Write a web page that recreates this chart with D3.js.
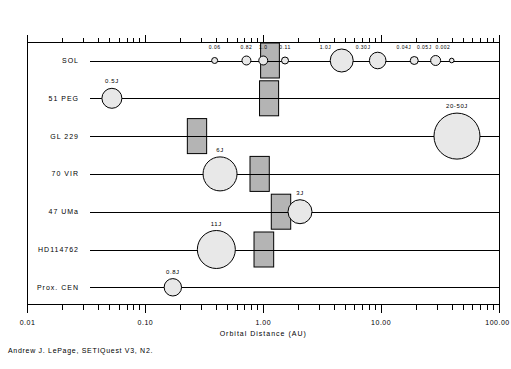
<!DOCTYPE html>
<html>
<head>
<meta charset="utf-8">
<script src="https://cdn.jsdelivr.net/npm/d3@7"></script>
<style>
  html, body { margin: 0; padding: 0; background: #fff; }
  svg text { font-family: "Liberation Sans", Arial, sans-serif; font-size: 7px; letter-spacing: 1px; fill: #000; }
  svg text.sollab { font-size: 5px; letter-spacing: 0.5px; }
  svg text.complab { font-size: 6px; letter-spacing: 0.6px; }
  svg text.tl { letter-spacing: 0.5px; }
  svg text.credit { letter-spacing: 0.7px; }
</style>
</head>
<body>
<svg id="chart" width="511" height="369"></svg>
<script>
// ---- data ----
const rows = ["SOL", "51 PEG", "GL 229", "70 VIR", "47 UMa", "HD114762", "Prox. CEN"];

// Solar system bodies (orbital distance in AU, bubble size, label)
const solDist   = [0.387, 0.72, 1.0, 1.53, 4.63, 9.35, 19.1, 29.0, 39.7];
const solSize   = [1.7, 3.8, 3.8, 2.3, 25, 13, 3, 4.7, 1];
const solLabels = ["0.06", "0.82", "1.0", "0.11", "1.0J", "0.30J", "0.04J", "0.05J", "0.002"];

// Companions of other stars
const compStars  = ["51 PEG", "GL 229", "70 VIR", "47 UMa", "HD114762", "Prox. CEN"];
const compDist   = [0.052, 44, 0.43, 2.05, 0.40, 0.171];
const compSize   = [18.9, 100, 54.6, 27.2, 68.2, 14.3];
const compLabels = ["0.5J", "20-50J", "6J", "3J", "11J", "0.8J"];

// Habitable zones (AU)
const hzStars = ["SOL", "51 PEG", "GL 229", "70 VIR", "47 UMa", "HD114762"];
const hzInner = [0.95, 0.93, 0.227, 0.772, 1.17, 0.835];
const hzOuter = [1.37, 1.35, 0.331, 1.125, 1.71, 1.226];

const tickValues = [0.01, 0.1, 1, 10, 100];
const tickLabels = ["0.01", "0.10", "1.00", "10.00", "100.00"];
const xTitle = "Orbital Distance (AU)";
const credit = "Andrew J. LePage, SETIQuest V3, N2.";

// ---- layout ----
const svg = d3.select("#chart");
const pLeft = 27.5, pRight = 499, pTop = 42.5, pBottom = 304.5;
const x = d3.scaleLog().domain([0.01, 100]).range([pLeft, pRight]);
const y = d3.scalePoint().domain(rows).range([60.5, 287.3]);
const r = d3.scaleSqrt().domain([0, 100]).range([0, 23]);
const rowLineStart = 90;
const hzHeight = 35;

// minor ticks
const minor = [];
for (let i = 0; i < tickValues.length - 1; i++)
  for (let k = 2; k <= 9; k++) minor.push(tickValues[i] * k);

const g = svg.append("g");

// habitable zones
g.selectAll("rect.hz").data(hzStars).enter().append("rect")
  .attr("class", "hz")
  .attr("x", (d, i) => x(hzInner[i]))
  .attr("width", (d, i) => x(hzOuter[i]) - x(hzInner[i]))
  .attr("y", d => y(d) - hzHeight / 2)
  .attr("height", hzHeight)
  .attr("fill", "#b4b4b4").attr("stroke", "#000").attr("stroke-width", 1);

// row lines
g.selectAll("line.row").data(rows).enter().append("line")
  .attr("x1", rowLineStart).attr("x2", pRight)
  .attr("y1", d => Math.round(y(d)) + 0.5).attr("y2", d => Math.round(y(d)) + 0.5)
  .attr("stroke", "#000").attr("stroke-width", 1);

// row labels
g.selectAll("text.rowlab").data(rows).enter().append("text")
  .attr("class", "rowlab")
  .attr("x", 79).attr("y", d => y(d) + 2.5)
  .attr("text-anchor", "end").text(d => d);

// solar system bodies
g.selectAll("circle.sol").data(solDist).enter().append("circle")
  .attr("cx", d => x(d)).attr("cy", y("SOL"))
  .attr("r", (d, i) => r(solSize[i]))
  .attr("fill", "#e8e8e8").attr("stroke", "#000").attr("stroke-width", 1);
// inner bodies: label centred; outer bodies: label ends at the bubble's left edge
g.selectAll("text.sollab").data(solLabels).enter().append("text")
  .attr("class", "sollab")
  .attr("x", (d, i) => solDist[i] > 2 ? x(solDist[i]) - r(solSize[i]) + 1 : x(solDist[i]))
  .attr("y", y("SOL") - 11.5)
  .attr("text-anchor", (d, i) => solDist[i] > 2 ? "end" : "middle")
  .text(d => d);

// companions
g.selectAll("circle.comp").data(compStars).enter().append("circle")
  .attr("cx", (d, i) => x(compDist[i])).attr("cy", d => y(d))
  .attr("r", (d, i) => r(compSize[i]))
  .attr("fill", "#e8e8e8").attr("stroke", "#000").attr("stroke-width", 1);
g.selectAll("text.complab").data(compLabels).enter().append("text")
  .attr("class", "complab")
  .attr("x", (d, i) => x(compDist[i]))
  .attr("y", (d, i) => y(compStars[i]) - r(compSize[i]) - 5)
  .attr("text-anchor", "middle").text(d => d);

// frame
svg.append("rect").attr("x", pLeft).attr("y", pTop)
  .attr("width", pRight - pLeft).attr("height", pBottom - pTop)
  .attr("fill", "none").attr("stroke", "#000").attr("stroke-width", 1)
  .attr("shape-rendering", "crispEdges");

// top ticks (outward)
svg.selectAll("line.tmaj").data(tickValues).enter().append("line")
  .attr("x1", d => x(d)).attr("x2", d => x(d)).attr("y1", pTop).attr("y2", pTop - 8)
  .attr("stroke", "#000").attr("shape-rendering", "crispEdges");
svg.selectAll("line.tmin").data(minor).enter().append("line")
  .attr("x1", d => x(d)).attr("x2", d => x(d)).attr("y1", pTop).attr("y2", pTop - 5)
  .attr("stroke", "#000").attr("shape-rendering", "crispEdges");
// bottom ticks
svg.selectAll("line.bmaj").data(tickValues).enter().append("line")
  .attr("x1", d => x(d)).attr("x2", d => x(d)).attr("y1", pBottom).attr("y2", pBottom + 8)
  .attr("stroke", "#000").attr("shape-rendering", "crispEdges");
svg.selectAll("line.bmin").data(minor).enter().append("line")
  .attr("x1", d => x(d)).attr("x2", d => x(d)).attr("y1", pBottom).attr("y2", pBottom + 5)
  .attr("stroke", "#000").attr("shape-rendering", "crispEdges");

svg.selectAll("text.tl").data(tickValues).enter().append("text")
  .attr("class", "tl")
  .attr("x", (d, i) => x(d) - (i === tickValues.length - 1 ? 1.5 : 0))
  .attr("y", 324.5).attr("text-anchor", "middle")
  .text((d, i) => tickLabels[i]);

svg.append("text").attr("x", (pLeft + pRight) / 2).attr("y", 336)
  .attr("text-anchor", "middle").text(xTitle);

svg.append("text").attr("class", "credit").attr("x", 8).attr("y", 353).text(credit);
</script>
</body>
</html>
